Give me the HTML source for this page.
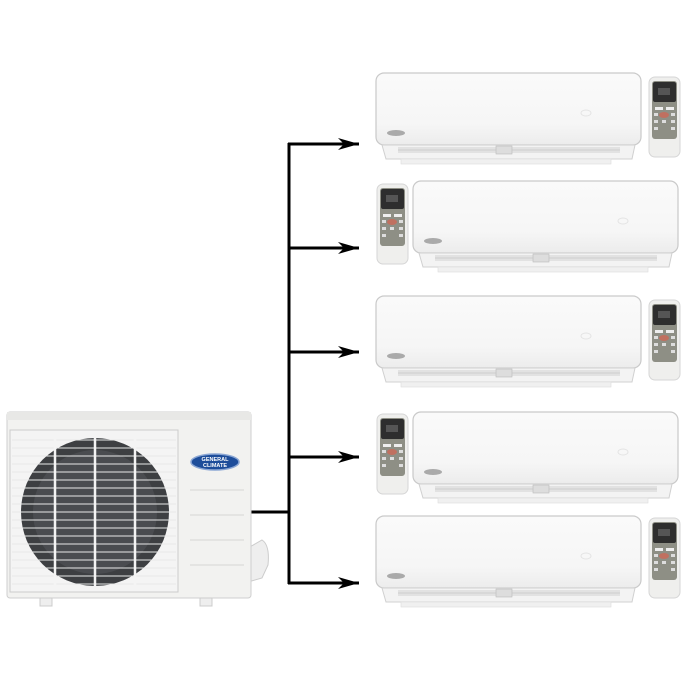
<!DOCTYPE html>
<html><head><style>body{margin:0;background:#fff}svg{display:block}</style></head><body>
<svg width="688" height="692" viewBox="0 0 688 692" xmlns="http://www.w3.org/2000/svg">
<defs>
<linearGradient id="ug" x1="0" y1="0" x2="0" y2="1"><stop offset="0" stop-color="#fafafa"/><stop offset="0.7" stop-color="#f6f6f6"/><stop offset="1" stop-color="#ececec"/></linearGradient>
<g id="unit">
 <rect x="0" y="0" width="265" height="72" rx="8" fill="url(#ug)" stroke="#c9c9c9" stroke-width="1.2"/>
 <path d="M6 72 L259 72 L256 86 L10 86 Z" fill="#f3f3f3" stroke="#d0d0d0"/>
 <rect x="22" y="74" width="222" height="6" fill="#e2e2e2"/>
 <line x1="22" y1="77" x2="244" y2="77" stroke="#cfcfcf"/>
 <rect x="120" y="73" width="16" height="8" fill="#ddd" stroke="#bbb" stroke-width="0.6"/>
 <rect x="25" y="86" width="210" height="5" fill="#f0f0f0" stroke="#ddd" stroke-width="0.6"/>
 <ellipse cx="20" cy="60" rx="9" ry="3" fill="#aaa"/>
 <ellipse cx="210" cy="40" rx="5" ry="3" fill="none" stroke="#e4e4e4"/>
</g>
<g id="remote">
 <rect x="0" y="0" width="31" height="80" rx="6" fill="#efefed" stroke="#d6d6d6"/>
 <rect x="3" y="4" width="25" height="58" rx="3" fill="#8e8f85"/>
 <rect x="4" y="5" width="23" height="20" rx="2" fill="#2e2e2e"/>
 <rect x="9" y="11" width="12" height="7" fill="#555"/>
 <rect x="6" y="30" width="8" height="3" fill="#eee"/><rect x="17" y="30" width="8" height="3" fill="#eee"/>
 <ellipse cx="15" cy="38" rx="5" ry="3" fill="#c07060"/>
 <rect x="5" y="36" width="4" height="3" fill="#ddd"/><rect x="22" y="36" width="4" height="3" fill="#ddd"/>
 <rect x="5" y="43" width="4" height="3" fill="#ddd"/><rect x="13" y="43" width="4" height="3" fill="#ddd"/><rect x="22" y="43" width="4" height="3" fill="#ddd"/>
 <rect x="5" y="50" width="4" height="3" fill="#ddd"/><rect x="22" y="50" width="4" height="3" fill="#ddd"/>
</g>
<marker id="ah" markerWidth="22" markerHeight="12" refX="21" refY="6" orient="auto" markerUnits="userSpaceOnUse"><path d="M0 0 L21 6 L0 12 L6 6 Z" fill="#000"/></marker>
</defs>

<!-- connectors -->
<g stroke="#000" stroke-width="3" fill="none">
 <line x1="289" y1="143" x2="289" y2="584"/>
 <line x1="250" y1="512" x2="289" y2="512"/>
 <line x1="288" y1="144" x2="359" y2="144" marker-end="url(#ah)"/>
 <line x1="288" y1="248" x2="359" y2="248" marker-end="url(#ah)"/>
 <line x1="288" y1="352" x2="359" y2="352" marker-end="url(#ah)"/>
 <line x1="288" y1="457" x2="359" y2="457" marker-end="url(#ah)"/>
 <line x1="288" y1="583" x2="359" y2="583" marker-end="url(#ah)"/>
</g>

<!-- indoor units -->
<use href="#unit" x="376" y="73"/>
<use href="#remote" x="649" y="77"/>
<use href="#unit" x="413" y="181"/>
<use href="#remote" x="377" y="184"/>
<use href="#unit" x="376" y="296"/>
<use href="#remote" x="649" y="300"/>
<use href="#unit" x="413" y="412"/>
<use href="#remote" x="377" y="414"/>
<use href="#unit" x="376" y="516"/>
<use href="#remote" x="649" y="518"/>

<!-- outdoor unit -->
<path d="M248 548 L262 540 Q270 545 268 565 L262 578 L248 582 Z" fill="#eee" stroke="#ccc"/>
<rect x="7" y="412" width="244" height="186" rx="3" fill="#f2f2f0" stroke="#cfcfcf"/>
<rect x="7" y="412" width="244" height="8" fill="#e8e8e6"/>
<rect x="10" y="430" width="168" height="162" fill="#f4f4f4" stroke="#ccc"/>
<circle cx="95" cy="512" r="74" fill="#3d3f42"/>
<circle cx="95" cy="512" r="62" fill="#4a4c50"/>
<g stroke="#e8e8e8" stroke-width="1">
 <line x1="12" y1="440" x2="176" y2="440"/><line x1="12" y1="448" x2="176" y2="448"/><line x1="12" y1="456" x2="176" y2="456"/><line x1="12" y1="464" x2="176" y2="464"/><line x1="12" y1="472" x2="176" y2="472"/><line x1="12" y1="480" x2="176" y2="480"/><line x1="12" y1="488" x2="176" y2="488"/><line x1="12" y1="496" x2="176" y2="496"/><line x1="12" y1="504" x2="176" y2="504"/><line x1="12" y1="512" x2="176" y2="512"/><line x1="12" y1="520" x2="176" y2="520"/><line x1="12" y1="528" x2="176" y2="528"/><line x1="12" y1="536" x2="176" y2="536"/><line x1="12" y1="544" x2="176" y2="544"/><line x1="12" y1="552" x2="176" y2="552"/><line x1="12" y1="560" x2="176" y2="560"/><line x1="12" y1="568" x2="176" y2="568"/><line x1="12" y1="576" x2="176" y2="576"/><line x1="12" y1="584" x2="176" y2="584"/>
</g>
<g stroke="#f4f4f4" stroke-width="2.5">
 <line x1="55" y1="432" x2="55" y2="590"/><line x1="95" y1="432" x2="95" y2="590"/><line x1="135" y1="432" x2="135" y2="590"/>
</g>
<ellipse cx="215" cy="462" rx="24" ry="8" fill="#1d4d9a" stroke="#8aa6d4" stroke-width="1.5"/>
<text x="215" y="461" font-family="Liberation Sans, sans-serif" font-size="5.5" font-weight="bold" fill="#fff" text-anchor="middle">GENERAL</text>
<text x="215" y="467" font-family="Liberation Sans, sans-serif" font-size="5.5" font-weight="bold" fill="#fff" text-anchor="middle">CLIMATE</text>
<g stroke="#d6d6d4"><line x1="190" y1="490" x2="244" y2="490"/><line x1="190" y1="515" x2="244" y2="515"/><line x1="190" y1="540" x2="244" y2="540"/><line x1="190" y1="565" x2="244" y2="565"/></g>
<rect x="40" y="598" width="12" height="8" fill="#eee" stroke="#ccc"/>
<rect x="200" y="598" width="12" height="8" fill="#eee" stroke="#ccc"/>
</svg>
</body></html>
